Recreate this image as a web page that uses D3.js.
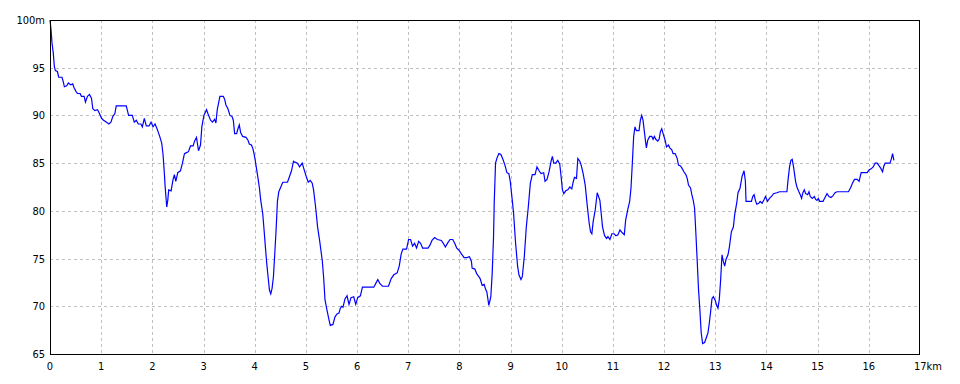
<!DOCTYPE html>
<html>
<head>
<meta charset="utf-8">
<script src="https://cdn.jsdelivr.net/npm/d3@7"></script>
<style>
  body { margin: 0; background: #fff; }
  text { font-family: "DejaVu Sans Condensed", "DejaVu Sans", sans-serif; font-size: 11px; fill: #000; }
</style>
</head>
<body>
<svg id="chart"></svg>
<script>
// distance along the route (km)
var distKm = [0.000,0.020,0.039,0.065,0.085,0.105,0.144,0.170,0.235,0.261,0.281,0.327,0.359,0.405,0.444,0.471,0.510,0.536,0.588,0.614,
0.667,0.693,0.732,0.771,0.810,0.837,0.876,0.928,0.967,1.007,1.046,1.098,1.150,1.190,1.229,1.268,1.294,1.490,1.536,1.608,
1.647,1.686,1.725,1.778,1.804,1.843,1.882,1.935,1.974,2.013,2.052,2.092,2.118,2.144,2.183,2.209,2.235,2.248,2.268,2.281,
2.301,2.320,2.366,2.405,2.431,2.458,2.497,2.549,2.588,2.627,2.667,2.706,2.745,2.797,2.824,2.863,2.902,2.941,2.967,3.007,
3.059,3.085,3.137,3.176,3.216,3.242,3.268,3.294,3.320,3.386,3.412,3.438,3.477,3.516,3.556,3.582,3.608,3.647,3.673,3.699,
3.725,3.765,3.830,3.869,3.895,3.935,3.961,3.987,4.013,4.039,4.065,4.092,4.118,4.157,4.183,4.209,4.235,4.261,4.288,4.314,
4.340,4.366,4.392,4.418,4.444,4.471,4.510,4.549,4.641,4.680,4.719,4.758,4.784,4.837,4.876,4.928,4.967,5.007,5.046,5.085,
5.124,5.150,5.190,5.229,5.268,5.320,5.346,5.373,5.412,5.451,5.477,5.529,5.569,5.608,5.647,5.673,5.699,5.725,5.765,5.804,
5.843,5.882,5.935,5.974,6.013,6.065,6.105,6.327,6.366,6.405,6.444,6.497,6.614,6.667,6.719,6.784,6.824,6.863,6.895,6.967,
7.007,7.046,7.085,7.124,7.163,7.203,7.242,7.281,7.386,7.425,7.464,7.516,7.569,7.647,7.686,7.725,7.778,7.817,7.869,7.908,
7.948,7.987,8.039,8.092,8.144,8.196,8.235,8.248,8.301,8.340,8.379,8.405,8.444,8.484,8.510,8.536,8.575,8.614,8.641,8.667,
8.680,8.706,8.732,8.771,8.810,8.850,8.889,8.928,8.967,8.993,9.033,9.059,9.098,9.137,9.163,9.203,9.229,9.268,9.307,9.346,
9.386,9.425,9.477,9.516,9.556,9.595,9.647,9.673,9.712,9.752,9.791,9.817,9.843,9.882,9.922,9.961,9.987,10.013,10.039,10.078,
10.118,10.157,10.196,10.222,10.248,10.288,10.314,10.353,10.379,10.418,10.458,10.497,10.536,10.562,10.588,10.614,10.654,10.693,10.719,10.745,
10.771,10.797,10.837,10.876,10.902,10.941,10.980,11.020,11.059,11.098,11.137,11.183,11.222,11.248,11.288,11.327,11.353,11.379,11.405,11.431,
11.458,11.510,11.536,11.562,11.588,11.614,11.641,11.654,11.680,11.719,11.758,11.784,11.810,11.837,11.876,11.902,11.928,11.954,11.980,12.020,
12.046,12.085,12.111,12.150,12.176,12.216,12.255,12.281,12.320,12.346,12.386,12.425,12.451,12.477,12.516,12.542,12.569,12.595,12.621,12.647,
12.673,12.699,12.725,12.752,12.791,12.817,12.856,12.882,12.908,12.935,12.961,13.000,13.026,13.052,13.078,13.105,13.131,13.157,13.183,13.209,
13.248,13.275,13.314,13.353,13.379,13.418,13.444,13.484,13.523,13.562,13.588,13.601,13.706,13.732,13.758,13.784,13.810,13.850,13.876,13.915,
13.954,13.980,14.020,14.059,14.111,14.137,14.203,14.255,14.399,14.425,14.451,14.477,14.503,14.529,14.569,14.595,14.634,14.660,14.686,14.712,
14.739,14.765,14.804,14.830,14.856,14.895,14.935,14.961,14.987,15.013,15.039,15.105,15.144,15.183,15.222,15.261,15.301,15.340,15.379,15.601,
15.641,15.680,15.719,15.771,15.810,15.850,15.876,15.967,16.007,16.046,16.085,16.124,16.163,16.190,16.229,16.268,16.294,16.320,16.412,16.438,
16.464,16.490];

// elevation (m)
var elevM = [100.0,99.0,97.6,96.5,95.1,94.7,94.6,94.0,94.0,93.5,93.0,93.1,93.4,93.2,93.3,92.9,92.5,92.3,92.3,92.0,
92.0,91.4,92.0,92.2,91.8,90.7,90.5,90.6,90.2,89.7,89.5,89.3,89.1,89.3,89.9,90.2,91.0,91.0,90.0,90.0,
89.3,89.5,89.1,89.1,88.8,89.7,88.9,88.9,89.3,88.8,89.1,88.6,88.2,87.8,87.1,85.9,83.9,82.7,81.3,80.4,
81.1,82.2,82.1,83.3,83.8,83.1,84.0,84.2,85.0,86.0,86.1,86.2,86.8,86.8,87.3,87.7,86.3,86.9,88.8,90.0,
90.6,90.2,89.5,89.3,89.6,89.2,90.6,91.3,92.0,92.0,91.7,91.1,90.7,90.0,89.9,89.5,88.1,88.1,88.6,89.0,
88.2,87.8,87.7,87.4,87.0,86.9,86.6,86.0,85.2,84.3,83.4,82.4,81.1,79.7,78.0,76.2,74.5,73.1,71.7,71.3,
71.9,73.1,75.5,78.0,81.0,82.0,82.5,83.0,83.0,83.6,84.2,85.2,85.1,85.0,84.6,85.0,84.3,83.6,83.0,83.2,
82.9,82.2,80.4,78.3,76.9,74.8,73.1,70.7,69.6,68.6,68.0,68.1,68.9,69.2,69.3,69.8,70.0,69.9,70.8,71.1,
70.2,70.9,71.0,70.2,70.9,71.1,72.0,72.0,72.4,72.8,72.4,72.1,72.1,72.9,73.3,73.5,74.2,75.5,76.0,76.0,
77.0,77.0,76.3,76.6,76.1,76.8,76.6,76.1,76.1,76.4,76.9,77.2,77.0,76.9,76.6,76.2,76.7,77.0,77.0,76.6,
76.1,75.9,75.5,75.1,75.1,75.2,74.7,74.0,73.9,73.4,73.1,72.9,72.2,72.3,71.8,71.5,70.1,71.0,73.5,77.3,
80.8,85.0,85.5,86.0,85.9,85.4,84.8,84.0,83.9,83.1,81.1,79.7,76.6,74.2,73.3,72.8,73.1,75.2,78.3,80.4,
82.9,83.8,83.8,84.6,84.2,83.9,84.0,83.1,83.3,84.1,85.2,85.7,85.0,85.0,85.3,84.9,83.6,82.2,81.8,82.1,
82.2,82.5,82.3,83.0,83.5,83.4,85.5,85.2,84.8,83.9,82.7,80.6,78.7,77.8,77.6,78.9,80.1,81.9,81.5,81.1,
79.7,78.3,77.4,77.1,77.3,77.0,77.6,77.6,77.4,77.5,78.0,77.7,77.5,79.0,80.1,81.0,82.4,85.0,87.8,88.8,
88.4,88.4,89.5,90.0,89.5,88.3,87.1,86.6,87.4,87.8,87.8,87.5,87.8,87.5,87.3,87.5,88.3,88.6,88.1,87.4,
86.7,86.9,86.6,86.4,86.0,86.0,85.5,84.8,84.7,84.5,84.1,83.8,83.4,82.7,82.4,81.7,81.1,80.3,77.6,74.7,
71.7,69.6,67.2,66.1,66.2,66.6,67.2,68.2,69.4,70.8,71.0,70.6,70.1,69.8,70.7,72.8,75.4,74.7,74.2,74.9,
75.4,76.2,77.8,78.3,79.6,80.8,81.9,82.4,83.6,84.2,83.1,81.0,81.0,81.5,81.7,81.1,80.7,80.8,81.0,80.8,
81.2,81.5,81.0,81.3,81.6,81.8,81.9,82.0,82.0,83.4,84.6,85.3,85.4,84.6,83.1,82.5,82.0,81.7,81.3,81.9,
82.2,81.8,81.7,82.0,81.5,81.3,81.5,81.2,81.1,81.3,81.0,81.0,81.4,81.8,81.5,81.4,81.6,81.9,82.0,82.0,
82.4,82.9,83.3,83.3,83.1,84.0,84.0,84.0,84.3,84.4,84.6,85.0,85.0,84.8,84.5,84.1,84.7,85.0,85.0,85.4,
86.0,85.3];

var xTicks = d3.range(0, 18);          // 0 .. 17 km
var yTicks = [65, 70, 75, 80, 85, 90, 95, 100];

var width = 960, height = 384;
var margin = {top: 20, right: 40, bottom: 30, left: 50};

var svg = d3.select("#chart")
  .attr("width", width)
  .attr("height", height);

var x = d3.scaleLinear().domain([0, 17]).range([margin.left, width - margin.right]);
var y = d3.scaleLinear().domain([65, 100]).range([height - margin.bottom, margin.top]);

// grid
svg.append("g")
  .selectAll("line")
  .data(xTicks.slice(1, -1))
  .enter().append("line")
  .attr("x1", function(d) { return Math.round(x(d)) + 0.5; })
  .attr("x2", function(d) { return Math.round(x(d)) + 0.5; })
  .attr("y1", y(100)).attr("y2", y(65))
  .attr("stroke", "#c0c0c0")
  .attr("stroke-dasharray", "3,3");

svg.append("g")
  .selectAll("line")
  .data(yTicks.slice(1, -1))
  .enter().append("line")
  .attr("y1", function(d) { return Math.round(y(d)) + 0.5; })
  .attr("y2", function(d) { return Math.round(y(d)) + 0.5; })
  .attr("x1", x(0)).attr("x2", x(17))
  .attr("stroke", "#c0c0c0")
  .attr("stroke-dasharray", "3,3");

// elevation line
var pts = distKm.map(function(d, i) { return [d, elevM[i]]; });
var line = d3.line()
  .x(function(d) { return x(d[0]); })
  .y(function(d) { return y(d[1]); });

svg.append("path")
  .datum(pts)
  .attr("d", line)
  .attr("fill", "none")
  .attr("stroke", "#0000ff")
  .attr("stroke-width", 1.2);

// frame
svg.append("rect")
  .attr("x", x(0) + 0.5)
  .attr("y", y(100) + 0.5)
  .attr("width", x(17) - x(0) - 1)
  .attr("height", y(65) - y(100))
  .attr("fill", "none")
  .attr("stroke", "#000")
  .attr("stroke-width", 1);

// x tick labels
svg.append("g")
  .selectAll("text")
  .data(xTicks)
  .enter().append("text")
  .attr("x", function(d) { return x(d); })
  .attr("y", y(65) + 16)
  .attr("text-anchor", function(d) { return d == 17 ? "start" : "middle"; })
  .attr("dx", function(d) { return d == 17 ? -6 : 0; })
  .text(function(d) { return d == 17 ? d + "km" : d; });

// y tick labels
svg.append("g")
  .selectAll("text")
  .data(yTicks)
  .enter().append("text")
  .attr("x", x(0) - 5)
  .attr("y", function(d) { return y(d) + 4; })
  .attr("text-anchor", "end")
  .text(function(d) { return d == 100 ? d + "m" : d; });
</script>
</body>
</html>
